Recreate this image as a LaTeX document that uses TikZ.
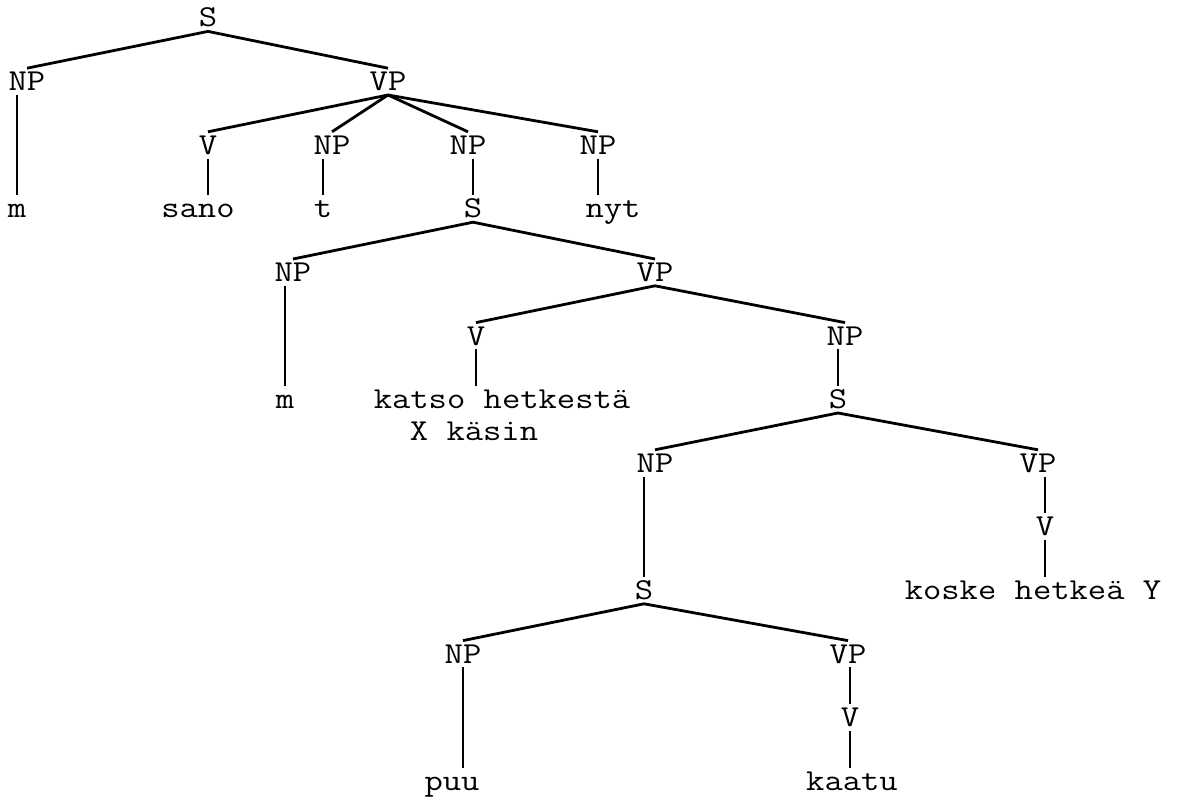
\documentclass[tikz,border=0pt]{standalone}
\usepackage{fontspec}
\newfontfamily\typewriter[FakeStretch=1.17]{Latin Modern Mono}
\usetikzlibrary{positioning}

\begin{document}
\begin{tikzpicture}[font=\typewriter\fontsize{15.2pt}{16pt}\selectfont,
    on grid,
    every node/.style={text height=9pt, text depth=0pt, inner sep=2pt}]
    \useasboundingbox (-104pt,9pt) rectangle (487.5pt,-392.5pt);
    % Add the main clause
    \node (S1) {S};
    \node[below left=31.8pt and 90.5pt of S1] (NP1) {NP};
    \node[below right=31.8pt and 90pt of S1] (VP1) {VP};
    \node[below left=63.6pt and 5pt of NP1] (m1) {m};
    \node[below left=31.8pt and 90pt of VP1] (V1) {V};
    \node[below left=31.8pt and 28pt of VP1] (NP2) {NP};
    \node[below right=31.8pt and 40pt of VP1] (NP3) {NP};
    \node[below right=31.8pt and 105pt of VP1] (NP4) {NP};
    \node[below left=31.8pt and 5pt of V1] (sano) {sano};
    \node[below left=31.8pt and 4.5pt of NP2] (t) {t};
    \node[below right=31.8pt and 2.5pt of NP3] (S2) {S};
    \node[below right=31.8pt and 7.5pt of NP4] (nyt) {nyt};
    % Add the first embedded clause
    \node[below left=31.8pt and 90pt of S2] (NP5) {NP};
    \node[below right=31.8pt and 91pt of S2] (VP2) {VP};
    \node[below left=63.6pt and 4pt of NP5] (m2) {m};
    \node[below left=31.8pt and 89.5pt of VP2] (V2) {V};
    \node[below right=31.8pt and 95pt of VP2] (NP6) {NP};
    \node[below right=31.8pt and 13pt of V2] (katso) {katso hetkestä};
    \node[below left=16pt and 14pt of katso] (kasin) {X käsin};
    \node[below left=31.8pt and 3.5pt of NP6] (S3) {S};
    % Add the second embedded clause
    \node[below left=31.8pt and 91.5pt of S3] (NP7) {NP};
    \node[below right=31.8pt and 100pt of S3] (VP3) {VP};
    \node[below right=31.8pt and 3.5pt of VP3] (V3) {V};
    \node[below left=31.8pt and 6pt of V3] (koske) {koske hetkeä Y};
    \node[below left=63.6pt and 5.5pt of NP7] (S4) {S};
    % Add the innermost clause
    \node[below left=31.8pt and 90.5pt of S4] (NP8) {NP};
    \node[below right=31.8pt and 102pt of S4] (VP4) {VP};
    \node[below right=31.8pt and 1pt of VP4] (V4) {V};
    \node[below left=63.6pt and 5.5pt of NP8] (puu) {puu};
    \node[below right=31.8pt and 1pt of V4] (kaatu) {kaatu};
    % Connect the branching nodes
    \draw[line width=1.4pt]
        (S1.south) edge (NP1.north)
        (S1.south) edge (VP1.north)
        (VP1.south) edge (V1.north)
        (VP1.south) edge (NP2.north)
        (VP1.south) edge (NP3.north)
        (VP1.south) edge (NP4.north)
        (S2.south) edge (NP5.north)
        (S2.south) edge (VP2.north)
        (VP2.south) edge (V2.north)
        (VP2.south) edge (NP6.north)
        (S3.south) edge (NP7.north)
        (S3.south) edge (VP3.north)
        (S4.south) edge (NP8.north)
        (S4.south) edge (VP4.north);
    % Connect the single children straight down
    \draw[line width=1.4pt]
        (m1.north |- NP1.south) edge (m1.north)
        (V1.south) edge (V1.south |- sano.north)
        (t.north |- NP2.south) edge (t.north)
        (S2.north |- NP3.south) edge (S2.north)
        (NP4.south) edge (NP4.south |- nyt.north)
        (m2.north |- NP5.south) edge (m2.north)
        (V2.south) edge (V2.south |- katso.north)
        (S3.north |- NP6.south) edge (S3.north)
        (V3.north |- VP3.south) edge (V3.north)
        (V3.south) edge (V3.south |- koske.north)
        (S4.north |- NP7.south) edge (S4.north)
        (NP8.south) edge (NP8.south |- puu.north)
        (V4.north |- VP4.south) edge (V4.north)
        (V4.south) edge (V4.south |- kaatu.north);
\end{tikzpicture}
\end{document}
